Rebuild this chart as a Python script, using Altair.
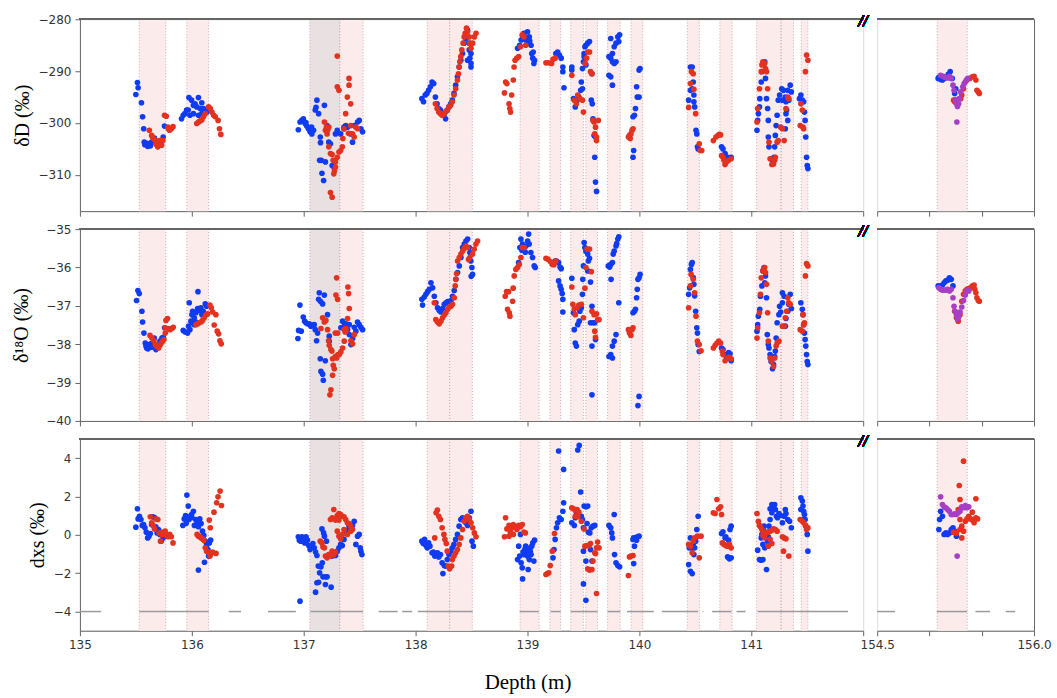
import altair as alt
import pandas as pd

# ---------------- shaded depth intervals ----------------
SPAN_PINK_LEFT = [(135.53, 135.767), (135.955, 136.15), (137.322, 137.531), (138.104, 138.304),
                  (138.304, 138.507), (138.934, 139.104), (139.2, 139.296), (139.386, 139.5),
                  (139.521, 139.626), (139.716, 139.829), (139.925, 140.03), (140.428, 140.536),
                  (140.719, 140.829), (141.048, 141.266), (141.266, 141.377), (141.446, 141.506)]
SPAN_GREY_LEFT = [(137.054, 137.322)]
SPAN_PINK_RIGHT = [(155.074, 155.362)]

# coverage segments drawn at dxs = -4
COVER_LEFT = [(135.0, 135.19), (135.53, 136.15), (136.33, 136.44), (136.68, 136.93), (137.06, 137.53),
              (137.67, 137.84), (137.88, 137.97), (138.02, 138.51), (138.93, 139.1), (139.207, 139.296),
              (139.386, 139.626), (139.716, 139.829), (139.889, 140.129), (140.2, 140.524),
              (140.566, 140.572), (140.65, 140.823), (140.868, 140.949), (141.057, 141.865)]
COVER_RIGHT = [(154.5, 154.67), (155.07, 155.36), (155.44, 155.58), (155.73, 155.82)]

# ---------------- dD (permil) ----------------
DD_BLUE = [
    (135.50, -294.5), (135.514, -292.2), (135.52, -293.2), (135.55, -296.1), (135.56, -298.8), (135.57, -301.1),
    (135.575, -303.7), (135.58, -304.2), (135.593, -304.0), (135.60, -303.9), (135.605, -304.5), (135.62, -304.2),
    (135.63, -304.4), (135.64, -303.7), (135.666, -302.9), (135.68, -303.5), (135.696, -304.5), (135.72, -304.0),
    (135.744, -302.7), (135.756, -300.6),
    (135.908, -299.2), (135.923, -298.5), (135.938, -298.2), (135.953, -297.5), (135.968, -297.5), (135.974, -295.1),
    (135.983, -298.5), (135.998, -295.6), (136.014, -296.6), (136.014, -298.2), (136.029, -296.3), (136.044, -296.9),
    (136.059, -295.1), (136.059, -298.5), (136.074, -297.2), (136.089, -296.1), (136.089, -298.2), (136.104, -297.2),
    (136.12, -297.5), (136.135, -297.9),
    (136.952, -301.3), (136.967, -299.8), (136.982, -299.5), (136.997, -299.2), (137.012, -300.1), (137.02, -299.9),
    (137.027, -300.6), (137.042, -301.1), (137.057, -301.7), (137.07, -300.8), (137.073, -302.1), (137.088, -301.4),
    (137.103, -297.5), (137.11, -297.0), (137.118, -295.6), (137.133, -298.2), (137.148, -302.7), (137.15, -303.8),
    (137.142, -307.2), (137.157, -307.2), (137.163, -309.7), (137.178, -311.1), (137.194, -307.5), (137.185, -296.6),
    (137.209, -300.5), (137.224, -303.7), (137.239, -304.0), (137.254, -308.2), (137.269, -308.5), (137.284, -302.1),
    (137.30, -301.4), (137.33, -302.1), (137.36, -301.1), (137.36, -300.8), (137.375, -300.5), (137.39, -300.8),
    (137.42, -302.1), (137.436, -303.7), (137.451, -300.5), (137.481, -299.8), (137.496, -299.5), (137.511, -301.1),
    (137.526, -301.7),
    (138.056, -295.3), (138.071, -295.9), (138.086, -294.6), (138.101, -294.3), (138.116, -293.7), (138.132, -293.0),
    (138.147, -292.1), (138.162, -292.4), (138.177, -295.0), (138.192, -296.3), (138.207, -297.2), (138.222, -297.5),
    (138.237, -298.2), (138.253, -298.5), (138.268, -299.2), (138.283, -297.5), (138.298, -296.9), (138.313, -296.3),
    (138.328, -295.6), (138.343, -294.3), (138.358, -292.7), (138.374, -291.1), (138.389, -289.2), (138.404, -287.9),
    (138.419, -286.6), (138.434, -284.6), (138.449, -283.7), (138.464, -282.1), (138.464, -287.9), (138.479, -285.9),
    (138.479, -284.6), (138.485, -287.5), (138.495, -289.2), (138.495, -288.5), (138.495, -286.6),
    (138.911, -285.6), (138.93, -285.0), (138.943, -284.0), (138.956, -283.2), (138.968, -282.7), (138.984, -284.0),
    (138.99, -283.5), (139.0, -282.4), (139.006, -284.6), (139.016, -283.4), (139.02, -284.2), (139.032, -285.0),
    (139.038, -286.6), (139.047, -287.5), (139.051, -286.3), (139.057, -288.5), (139.063, -287.9),
    (139.253, -286.6), (139.269, -286.3), (139.285, -286.9), (139.301, -287.5), (139.316, -289.2), (139.316, -290.1),
    (139.326, -293.2),
    (139.396, -289.2), (139.396, -289.8), (139.411, -295.3), (139.427, -296.9), (139.443, -295.6), (139.459, -295.0),
    (139.475, -293.7), (139.481, -292.1), (139.491, -293.4), (139.491, -289.5), (139.5, -288.2), (139.506, -286.6),
    (139.506, -287.2), (139.513, -285.3), (139.522, -285.0), (139.522, -288.8), (139.538, -284.6), (139.554, -284.3),
    (139.576, -290.5), (139.57, -295.6), (139.579, -296.3), (139.585, -299.2), (139.595, -302.4), (139.608, -302.7),
    (139.601, -306.6), (139.608, -311.4), (139.617, -313.2),
    (139.728, -290.8), (139.744, -291.1), (139.759, -292.7), (139.728, -287.2), (139.744, -287.5), (139.759, -288.2),
    (139.775, -288.5), (139.791, -288.2), (139.744, -283.7), (139.759, -286.6), (139.775, -285.3), (139.791, -284.6),
    (139.807, -283.4), (139.823, -283.0), (139.816, -284.3),
    (139.943, -306.6), (139.949, -305.3), (139.943, -298.8), (139.956, -298.5), (139.965, -297.2), (139.981, -295.0),
    (139.997, -295.0), (139.975, -293.0), (139.997, -289.8), (140.006, -289.5),
    (140.44, -295.6), (140.456, -289.2), (140.472, -289.2), (140.456, -293.7), (140.472, -293.4), (140.481, -292.1),
    (140.487, -294.6), (140.487, -295.9), (140.494, -296.9), (140.506, -301.4), (140.513, -302.1), (140.519, -304.6),
    (140.525, -305.0),
    (140.734, -304.6), (140.747, -305.0), (140.766, -305.9), (140.772, -306.6), (140.788, -306.6), (140.804, -306.9),
    (140.82, -306.6),
    (141.051, -301.4), (141.057, -299.5), (141.063, -298.2), (141.073, -296.9), (141.076, -295.3), (141.089, -292.1),
    (141.095, -290.1), (141.104, -288.5), (141.12, -288.2), (141.127, -291.4), (141.136, -295.3), (141.146, -297.2),
    (141.152, -299.5), (141.152, -302.7), (141.158, -304.6), (141.177, -306.9), (141.19, -307.2), (141.203, -306.6),
    (141.209, -304.6), (141.215, -302.4), (141.222, -300.5), (141.231, -298.5), (141.241, -295.6), (141.253, -294.6),
    (141.272, -293.4), (141.278, -295.6), (141.288, -293.7), (141.304, -295.0), (141.304, -301.1), (141.31, -295.9),
    (141.31, -298.2), (141.316, -297.5), (141.326, -299.5), (141.326, -293.7), (141.335, -295.6), (141.348, -292.7),
    (141.358, -294.0),
    (141.43, -295.3), (141.443, -294.6), (141.456, -295.6), (141.468, -295.9), (141.475, -297.9), (141.481, -299.5),
    (141.487, -302.7), (141.494, -306.6), (141.5, -308.2), (141.506, -308.8),
]
DD_RED = [
    (135.62, -301.4), (135.641, -302.4), (135.65, -302.8), (135.666, -303.2), (135.68, -304.1), (135.696, -304.6),
    (135.70, -303.8), (135.711, -303.4), (135.726, -303.9), (135.73, -304.3), (135.741, -303.4), (135.756, -298.5),
    (135.772, -298.7), (135.787, -300.8), (135.79, -301.1), (135.80, -301.4), (135.817, -301.1), (135.832, -300.7),
    (136.044, -300.1), (136.059, -299.8), (136.074, -299.6), (136.089, -299.4), (136.104, -298.8), (136.12, -298.2),
    (136.15, -296.9), (136.165, -297.2), (136.18, -297.9), (136.195, -298.5), (136.21, -298.8), (136.235, -299.5),
    (136.247, -301.1), (136.259, -302.2),
    (137.185, -299.8), (137.194, -301.4), (137.203, -300.8), (137.209, -302.1), (137.215, -301.3), (137.224, -300.8),
    (137.224, -304.6), (137.239, -305.9), (137.254, -306.1), (137.263, -307.2), (137.269, -309.8), (137.275, -309.2),
    (137.284, -308.5), (137.254, -314.3), (137.239, -313.4), (137.284, -307.5), (137.30, -306.6), (137.315, -305.6),
    (137.33, -305.3), (137.345, -304.6), (137.35, -303.0), (137.30, -293.0), (137.315, -293.7), (137.30, -287.1),
    (137.36, -301.1), (137.375, -298.2), (137.39, -295.0), (137.40, -302.0), (137.405, -292.7), (137.405, -291.4),
    (137.42, -296.3), (137.42, -300.5), (137.436, -302.1), (137.451, -302.7), (137.466, -300.8), (137.481, -301.1),
    (138.177, -296.3), (138.192, -297.2), (138.207, -297.9), (138.222, -298.2), (138.237, -298.5), (138.253, -298.2),
    (138.268, -297.9), (138.283, -297.5), (138.298, -296.9), (138.313, -296.6), (138.328, -295.9), (138.343, -294.6),
    (138.358, -293.4), (138.374, -291.7), (138.383, -290.5), (138.389, -289.2), (138.395, -288.2), (138.404, -287.2),
    (138.413, -285.9), (138.425, -284.6), (138.434, -283.4), (138.443, -282.7), (138.455, -281.7), (138.464, -282.4),
    (138.479, -283.4), (138.485, -284.6), (138.495, -285.6), (138.51, -284.6), (138.525, -283.4), (138.54, -282.7),
    (138.794, -294.2), (138.804, -292.1), (138.816, -292.4), (138.835, -296.3), (138.842, -297.2), (138.848, -297.9),
    (138.858, -294.6), (138.873, -291.7), (138.88, -289.2), (138.889, -287.9), (138.905, -287.5), (138.921, -287.2),
    (138.937, -285.3), (138.953, -283.0), (138.968, -283.4), (138.984, -285.0),
    (139.165, -288.4), (139.19, -288.4), (139.215, -288.5), (139.228, -287.7), (139.247, -287.5),
    (139.396, -290.8), (139.418, -295.6), (139.437, -296.3), (139.449, -294.6), (139.468, -295.3), (139.491, -295.6),
    (139.5, -297.9), (139.516, -288.5), (139.528, -287.5), (139.538, -286.3), (139.554, -286.3), (139.563, -290.1),
    (139.576, -290.5), (139.585, -299.5), (139.595, -299.8), (139.601, -302.1), (139.608, -300.8), (139.617, -302.7),
    (139.617, -303.4), (139.633, -299.5),
    (139.902, -302.7), (139.911, -302.4), (139.918, -303.0), (139.924, -302.1), (139.934, -301.4), (139.943, -301.1),
    (140.44, -297.0), (140.456, -292.4), (140.465, -290.1), (140.481, -290.5), (140.487, -293.5), (140.503, -298.2),
    (140.535, -304.0), (140.544, -305.3), (140.557, -305.3),
    (140.661, -303.4), (140.684, -302.7), (140.703, -302.4), (140.715, -302.2), (140.725, -302.3), (140.734, -306.3),
    (140.747, -306.6), (140.756, -307.2), (140.766, -308.0), (140.778, -307.5), (140.797, -307.2), (140.82, -306.9),
    (141.051, -299.8), (141.057, -297.2), (141.073, -293.4), (141.089, -290.1), (141.095, -288.8), (141.104, -288.2),
    (141.12, -288.5), (141.127, -289.5), (141.136, -290.1), (141.146, -293.4), (141.158, -303.7), (141.168, -306.9),
    (141.184, -308.0), (141.199, -307.9), (141.209, -307.2), (141.215, -306.6), (141.231, -303.7), (141.241, -303.4),
    (141.263, -300.8), (141.278, -301.1), (141.294, -303.4), (141.31, -297.2), (141.326, -295.0), (141.335, -295.3),
    (141.437, -300.5), (141.443, -296.3), (141.456, -297.5), (141.462, -300.8), (141.468, -301.1), (141.484, -290.1),
    (141.494, -286.9), (141.506, -287.9),
]
DD_BLUE_R = [(155.083, -291.4), (155.09, -291.2), (155.107, -291.6), (155.124, -291.7), (155.14, -291.4),
             (155.164, -291.1), (155.18, -290.6), (155.198, -290.1), (155.218, -291.4), (155.241, -294.3),
             (155.252, -293.4)]
DD_RED_R = [(155.231, -295.6), (155.241, -295.9), (155.299, -295.3), (155.309, -294.6), (155.326, -293.4),
            (155.343, -292.1), (155.359, -291.7), (155.386, -291.4), (155.41, -291.1), (155.427, -291.0),
            (155.444, -291.7), (155.454, -293.7), (155.467, -294.0), (155.477, -294.3)]
DD_PURPLE_R = [(155.107, -290.8), (155.13, -291.0), (155.15, -291.2), (155.174, -291.3), (155.191, -291.0),
               (155.208, -291.4), (155.225, -292.7), (155.235, -293.7), (155.248, -295.5), (155.258, -296.3),
               (155.268, -296.8), (155.279, -296.3), (155.285, -295.3), (155.299, -294.0), (155.319, -293.0),
               (155.332, -292.4), (155.353, -291.7), (155.366, -291.4), (155.262, -299.8)]

# ---------------- d18O (permil) ----------------
O_BLUE = [
    (135.506, -36.86), (135.518, -36.6), (135.53, -36.68), (135.554, -37.14), (135.56, -37.42), (135.572, -37.71),
    (135.584, -37.97), (135.59, -38.05), (135.596, -38.1), (135.608, -38.12), (135.62, -38.01), (135.634, -37.99),
    (135.64, -38.08), (135.649, -37.97), (135.664, -37.84), (135.679, -38.14), (135.697, -38.03), (135.715, -37.92),
    (135.733, -37.84), (135.745, -37.82), (135.757, -37.57),
    (135.923, -37.64), (135.941, -37.68), (135.962, -37.71), (135.971, -37.53), (135.977, -36.92), (135.983, -37.62),
    (135.992, -37.4), (136.001, -37.23), (136.007, -37.14), (136.007, -37.44), (136.022, -37.31), (136.022, -37.49),
    (136.037, -37.18), (136.037, -37.42), (136.052, -37.07), (136.055, -36.63), (136.066, -37.12), (136.081, -37.05),
    (136.09, -37.23), (136.102, -37.14), (136.12, -36.95), (136.132, -37.01),
    (136.948, -37.85), (136.954, -37.64), (136.966, -36.98), (136.978, -37.66), (136.996, -37.29), (137.008, -37.4),
    (137.02, -37.44), (137.035, -37.47), (137.049, -37.47), (137.064, -37.53), (137.079, -37.5), (137.094, -37.49),
    (137.103, -37.62), (137.115, -37.91), (137.124, -37.71), (137.133, -36.83), (137.139, -36.66), (137.151, -36.89),
    (137.169, -36.95), (137.184, -36.72), (137.148, -38.38), (137.154, -38.71), (137.169, -38.78), (137.175, -38.94),
    (137.193, -38.43), (137.213, -37.23), (137.228, -37.79), (137.228, -37.92), (137.332, -37.57), (137.347, -37.4),
    (137.362, -37.53), (137.377, -37.47), (137.383, -37.62), (137.392, -37.62), (137.407, -37.75), (137.407, -37.49),
    (137.422, -38.01), (137.437, -37.85), (137.452, -37.56), (137.466, -37.66), (137.481, -37.42), (137.496, -37.49),
    (137.511, -37.56), (137.526, -37.62),
    (138.056, -36.83), (138.062, -36.98), (138.077, -36.77), (138.092, -36.7), (138.107, -36.63), (138.122, -36.57),
    (138.137, -36.4), (138.152, -36.53), (138.167, -36.75), (138.181, -36.92), (138.196, -37.05), (138.211, -37.12),
    (138.226, -37.16), (138.241, -37.07), (138.256, -36.96), (138.271, -36.92), (138.286, -36.89), (138.301, -36.89),
    (138.316, -36.86), (138.33, -36.75), (138.345, -36.6), (138.36, -36.31), (138.375, -36.13), (138.39, -35.96),
    (138.405, -35.74), (138.42, -35.48), (138.435, -35.39), (138.45, -35.31), (138.465, -35.26), (138.479, -35.48),
    (138.485, -35.61), (138.494, -35.83), (138.497, -36.23), (138.503, -36.0), (138.509, -36.18),
    (138.92, -35.87), (138.932, -35.48), (138.941, -35.26), (138.95, -35.55), (138.956, -35.39), (138.971, -35.48),
    (138.98, -35.6), (138.986, -35.44), (139.001, -35.31), (139.01, -35.13), (139.015, -35.39), (139.03, -35.61),
    (139.045, -35.74), (139.06, -35.96), (139.069, -36.0),
    (139.247, -35.83), (139.259, -35.83), (139.278, -35.87), (139.291, -35.99), (139.301, -36.03), (139.278, -36.35),
    (139.291, -36.48), (139.301, -36.57), (139.31, -36.68), (139.316, -37.16), (139.316, -36.83),
    (139.396, -36.28), (139.411, -37.18), (139.418, -37.62), (139.427, -37.97), (139.437, -38.05), (139.449, -37.49),
    (139.462, -37.4), (139.468, -37.14), (139.481, -37.05), (139.491, -36.7), (139.494, -36.31), (139.5, -35.96),
    (139.506, -35.35), (139.513, -35.48), (139.522, -35.58), (139.538, -35.65), (139.544, -35.83), (139.538, -36.09),
    (139.554, -35.76), (139.563, -36.38), (139.576, -37.01), (139.563, -37.44), (139.585, -37.44), (139.576, -38.05),
    (139.576, -39.32), (139.601, -37.44), (139.608, -37.88),
    (139.722, -35.96), (139.734, -35.99), (139.744, -35.92), (139.747, -36.31), (139.759, -35.87), (139.766, -35.65),
    (139.775, -35.57), (139.791, -35.44), (139.797, -35.38), (139.807, -35.26), (139.816, -35.2), (139.816, -36.92),
    (139.791, -37.75), (139.775, -37.92), (139.759, -38.05), (139.744, -38.27), (139.759, -38.36), (139.728, -38.32),
    (139.943, -37.18), (139.956, -37.14), (139.965, -37.09), (139.975, -36.79), (139.981, -36.57), (139.987, -36.31),
    (139.997, -36.27), (140.006, -36.18), (139.987, -39.6), (139.997, -39.36),
    (140.44, -36.7), (140.449, -36.53), (140.456, -36.05), (140.465, -35.92), (140.472, -35.87), (140.481, -36.26),
    (140.487, -36.44), (140.494, -36.74), (140.503, -37.14), (140.513, -37.57), (140.519, -37.71), (140.525, -38.01),
    (140.535, -38.19),
    (140.734, -38.1), (140.747, -38.14), (140.766, -38.27), (140.778, -38.32), (140.788, -38.36), (140.797, -38.22),
    (140.81, -38.25), (140.82, -38.43),
    (141.051, -37.66), (141.057, -37.49), (141.063, -37.27), (141.076, -37.09), (141.082, -36.75), (141.095, -36.48),
    (141.104, -36.09), (141.114, -36.0), (141.12, -36.4), (141.127, -36.22), (141.136, -36.79), (141.143, -37.75),
    (141.152, -38.01), (141.158, -38.1), (141.168, -38.27), (141.177, -38.45), (141.19, -38.64), (141.199, -38.53),
    (141.209, -38.32), (141.215, -38.18), (141.222, -37.84), (141.231, -37.44), (141.247, -37.23), (141.253, -37.01),
    (141.263, -37.16), (141.278, -36.92), (141.278, -36.66), (141.294, -36.75), (141.304, -37.53), (141.31, -37.33),
    (141.326, -37.14), (141.335, -36.96), (141.348, -36.7), (141.358, -37.07),
    (141.443, -36.92), (141.456, -37.09), (141.462, -37.23), (141.468, -37.49), (141.475, -37.71), (141.481, -37.88),
    (141.487, -38.05), (141.494, -38.27), (141.5, -38.45), (141.506, -38.53),
]
O_RED = [
    (135.626, -37.77), (135.643, -37.84), (135.661, -37.91), (135.673, -38.01), (135.685, -38.05), (135.703, -38.1),
    (135.715, -38.03), (135.727, -37.97), (135.739, -37.92), (135.751, -37.88), (135.763, -37.57), (135.763, -37.71),
    (135.769, -37.38), (135.783, -37.33), (135.792, -37.59), (135.804, -37.62), (135.822, -37.59), (135.834, -37.56),
    (136.037, -37.49), (136.052, -37.47), (136.066, -37.44), (136.081, -37.42), (136.096, -37.38), (136.111, -37.31),
    (136.126, -37.24), (136.141, -37.21), (136.162, -36.98), (136.174, -37.05), (136.186, -37.16), (136.2, -37.5),
    (136.215, -37.23), (136.227, -37.66), (136.239, -37.73), (136.251, -37.91), (136.263, -37.99),
    (137.154, -37.59), (137.169, -37.31), (137.184, -37.42), (137.198, -37.38), (137.213, -37.62), (137.222, -37.91),
    (137.228, -38.03), (137.243, -38.14), (137.252, -38.18), (137.258, -38.38), (137.264, -38.55), (137.273, -38.64),
    (137.258, -38.81), (137.243, -39.19), (137.234, -39.32), (137.282, -38.32), (137.282, -37.71), (137.288, -36.72),
    (137.294, -38.36), (137.294, -36.27), (137.303, -36.83), (137.303, -37.71), (137.306, -38.27), (137.318, -38.27),
    (137.332, -38.2), (137.347, -38.1), (137.362, -37.92), (137.362, -37.62), (137.371, -37.68), (137.377, -37.59),
    (137.377, -37.66), (137.392, -37.33), (137.395, -36.51), (137.401, -36.68), (137.407, -37.07), (137.422, -37.91),
    (137.437, -37.99), (137.452, -37.75),
    (138.167, -36.92), (138.181, -37.36), (138.196, -37.42), (138.211, -37.47), (138.226, -37.4), (138.241, -37.31),
    (138.256, -37.24), (138.271, -37.18), (138.286, -37.09), (138.301, -37.03), (138.316, -37.01), (138.33, -36.96),
    (138.345, -36.79), (138.354, -36.48), (138.36, -36.31), (138.366, -36.16), (138.375, -35.83), (138.39, -35.74),
    (138.405, -35.65), (138.42, -35.57), (138.435, -35.5), (138.45, -35.44), (138.465, -35.48), (138.473, -35.79),
    (138.485, -35.74), (138.509, -35.65), (138.524, -35.52), (138.539, -35.39), (138.554, -35.31),
    (138.801, -36.75), (138.813, -36.63), (138.822, -37.09), (138.831, -36.63), (138.837, -37.18), (138.843, -37.27),
    (138.867, -36.88), (138.872, -36.54), (138.881, -36.22), (138.896, -36.05), (138.911, -36.0), (138.926, -35.92),
    (138.941, -35.74), (138.956, -35.48), (138.971, -35.48),
    (139.165, -35.76), (139.184, -35.79), (139.206, -35.85), (139.222, -35.92), (139.237, -35.93), (139.253, -35.83),
    (139.396, -36.51), (139.405, -36.96), (139.418, -37.09), (139.427, -37.23), (139.443, -37.05), (139.459, -36.98),
    (139.481, -36.96), (139.5, -37.31), (139.513, -36.54), (139.522, -36.0), (139.532, -35.52), (139.554, -35.52),
    (139.57, -36.11), (139.576, -37.14), (139.595, -37.23), (139.601, -37.66), (139.608, -37.82), (139.617, -37.21),
    (139.627, -37.36), (139.639, -37.36),
    (139.902, -37.62), (139.911, -37.71), (139.924, -37.77), (139.934, -37.62), (139.943, -37.57),
    (140.44, -37.05), (140.456, -36.48), (140.462, -36.18), (140.481, -36.31), (140.494, -36.66), (140.506, -37.27),
    (140.519, -37.92), (140.535, -38.01), (140.551, -38.17),
    (140.661, -38.1), (140.677, -38.03), (140.693, -37.97), (140.709, -37.92), (140.725, -37.97), (140.741, -38.18),
    (140.747, -38.27), (140.766, -38.43), (140.788, -38.36), (140.804, -38.34), (140.82, -38.38),
    (141.051, -37.84), (141.057, -37.57), (141.073, -37.18), (141.082, -36.7), (141.089, -36.27), (141.104, -36.09),
    (141.12, -36.0), (141.127, -36.13), (141.136, -36.44), (141.146, -37.18), (141.152, -37.92), (141.168, -38.36),
    (141.184, -38.45), (141.199, -38.58), (141.209, -38.36), (141.222, -38.05), (141.231, -37.97), (141.247, -37.92),
    (141.278, -37.53), (141.294, -37.53), (141.304, -37.31), (141.316, -37.14), (141.326, -36.79), (141.335, -36.92),
    (141.348, -36.96),
    (141.437, -37.62), (141.456, -37.66), (141.462, -37.23), (141.468, -37.49), (141.475, -37.44), (141.484, -36.22),
    (141.494, -35.9), (141.506, -35.96),
]
O_BLUE_R = [(155.083, -36.48), (155.107, -36.48), (155.124, -36.46), (155.14, -36.4), (155.157, -36.35),
            (155.174, -36.33), (155.191, -36.27), (155.208, -36.31), (155.225, -36.48)]
O_RED_R = [(155.241, -37.14), (155.258, -37.31), (155.275, -37.4), (155.292, -37.23), (155.309, -36.88),
           (155.326, -36.7), (155.343, -36.61), (155.359, -36.57), (155.376, -36.55), (155.393, -36.53),
           (155.41, -36.48), (155.427, -36.46), (155.434, -36.57), (155.444, -36.66), (155.454, -36.79),
           (155.467, -36.86), (155.477, -36.88)]
O_PURPLE_R = [(155.09, -36.53), (155.107, -36.57), (155.124, -36.59), (155.14, -36.59), (155.157, -36.59),
              (155.174, -36.57), (155.191, -36.61), (155.208, -36.57), (155.225, -36.79), (155.235, -37.01),
              (155.245, -37.14), (155.258, -37.23), (155.268, -37.34), (155.279, -37.29), (155.292, -37.16),
              (155.309, -37.03), (155.326, -36.86), (155.343, -36.72), (155.359, -36.61), (155.376, -36.61)]

# ---------------- deuterium excess (permil) ----------------
X_BLUE = [
    (135.50, 0.4), (135.514, 1.36), (135.52, 0.83), (135.532, 0.97), (135.545, 0.8), (135.557, 0.49), (135.569, 0.54),
    (135.581, 0.37), (135.593, 0.14), (135.605, -0.16), (135.617, -0.07), (135.629, 0.07), (135.641, 0.54),
    (135.65, 0.94), (135.666, 0.9), (135.678, 0.42), (135.69, 0.1), (135.702, 0.28), (135.714, 0.02),
    (135.726, -0.33), (135.744, -0.16), (135.756, 0.1),
    (135.92, 0.49), (135.932, 0.83), (135.944, 1.01), (135.95, 0.6), (135.956, 2.07), (135.968, 1.5), (135.974, 0.8),
    (135.986, 0.97), (135.998, 1.06), (136.0, 0.9), (136.014, 1.23), (136.023, 0.49), (136.035, 0.8), (136.047, 0.63),
    (136.059, 0.42), (136.071, 0.83), (136.083, 0.59), (136.095, 0.19), (136.107, -0.03), (136.12, -0.33),
    (136.132, -0.56), (136.144, -0.77), (136.156, -0.42), (136.168, -0.28), (136.059, -1.84), (136.113, -1.43),
    (136.15, -1.11), (136.165, -1.03),
    (136.952, -0.1), (136.961, -0.28), (136.973, -0.33), (136.985, -0.1), (136.997, -0.21), (137.009, -0.42),
    (137.021, -0.1), (137.033, -0.28), (137.045, -0.56), (137.057, -0.77), (137.07, -0.59), (137.082, -0.45),
    (137.094, -0.68), (137.106, -0.9), (137.118, -1.08), (137.13, -1.63), (137.142, -1.98), (137.154, -1.67),
    (137.166, -1.46), (137.118, -2.5), (137.106, -2.99), (137.133, -2.47), (137.172, -2.19), (137.194, -2.19),
    (137.209, -2.19), (137.194, -2.59), (137.245, -2.73), (136.967, -3.46), (137.163, 0.31), (137.178, 0.1),
    (137.185, -0.07), (137.203, -0.33), (137.227, -1.03), (137.254, -1.11), (137.284, -1.08), (137.3, -0.85),
    (137.315, -0.68), (137.33, -0.5), (137.345, -0.56), (137.36, -0.24), (137.375, 0.1), (137.39, 0.24),
    (137.405, 0.45), (137.42, 0.28), (137.436, 0.49), (137.451, 0.71), (137.466, -0.5), (137.481, -0.07),
    (137.496, 0.02), (137.505, -0.68), (137.511, -0.85), (137.52, -1.03),
    (138.056, -0.33), (138.068, -0.45), (138.08, -0.24), (138.092, -0.56), (138.104, -0.68), (138.116, -0.42),
    (138.128, -0.59), (138.147, -0.94), (138.159, -0.9), (138.171, -1.11), (138.183, -1.03), (138.195, -0.94),
    (138.207, -1.15), (138.222, -1.03), (138.237, -1.46), (138.244, -2.02), (138.256, -1.6), (138.268, -1.63),
    (138.283, -1.29), (138.298, -1.03), (138.313, -0.85), (138.328, -0.68), (138.343, -0.5), (138.358, -0.24),
    (138.374, 0.02), (138.389, 0.45), (138.404, 0.8), (138.419, 0.89), (138.434, 0.8), (138.449, 0.63),
    (138.464, 0.49), (138.479, 0.89), (138.495, 1.23), (138.504, -0.33), (138.516, -0.59),
    (138.911, -1.29), (138.921, -0.59), (138.93, -1.11), (138.937, 0.02), (138.943, -1.46), (138.953, -1.72),
    (138.956, -2.3), (138.96, -0.9), (138.968, -1.03), (138.975, -0.77), (138.984, -0.59), (138.994, -0.85),
    (139.0, -1.11), (139.006, -1.81), (139.01, -0.7), (139.016, -1.29), (139.025, -0.85), (139.032, -1.03),
    (139.038, -0.59), (139.047, -0.42), (139.057, -1.37), (139.063, -0.28),
    (139.228, -1.2), (139.237, -0.77), (139.247, -0.24), (139.259, 0.37), (139.269, 0.63), (139.285, 0.89),
    (139.301, 0.8), (139.316, 1.23), (139.323, 1.67), (139.278, 4.37), (139.323, 3.41),
    (139.396, 0.63), (139.418, 0.49), (139.427, 0.89), (139.437, 1.18), (139.449, 4.42), (139.462, 4.66),
    (139.475, 2.23), (139.481, 0.97), (139.491, 0.8), (139.5, 0.37), (139.506, 1.5), (139.522, 1.46),
    (139.538, 1.5), (139.532, 0.59), (139.544, 0.14), (139.557, 0.1), (139.57, 0.37), (139.585, 0.45),
    (139.601, 0.49), (139.5, -0.85), (139.522, -1.37), (139.5, -2.56), (139.522, -3.41), (139.563, -0.77),
    (139.576, -1.37),
    (139.728, 0.49), (139.744, 0.37), (139.753, 0.1), (139.759, -0.16), (139.775, 1.06), (139.778, -1.03),
    (139.791, -1.46), (139.807, -1.6), (139.823, -1.67),
    (139.943, -0.24), (139.949, -0.16), (139.965, -0.16), (139.981, -0.1), (139.997, -0.07), (139.956, -0.59),
    (139.949, -1.5), (139.975, -0.28),
    (140.44, -1.55), (140.456, -1.9), (140.472, -2.02), (140.446, -0.68), (140.456, -0.16), (140.472, -0.68),
    (140.481, -0.5), (140.487, -1.03), (140.494, -0.68), (140.503, -0.33), (140.513, 0.28), (140.525, 0.97),
    (140.734, 0.07), (140.747, 0.16), (140.766, -0.16), (140.772, -0.1), (140.788, -1.15), (140.797, -0.28),
    (140.804, -1.25), (140.81, 0.28), (140.82, -1.2), (140.82, 0.45),
    (141.057, -0.8), (141.073, -1.29), (141.089, -1.32), (141.104, -1.29), (141.089, -0.16), (141.095, 0.02),
    (141.104, 0.28), (141.104, -0.5), (141.114, 0.45), (141.12, -0.68), (141.127, 0.14), (141.136, -1.81),
    (141.146, -0.33), (141.152, -0.1), (141.158, 0.45), (141.168, 0.8), (141.168, 1.36), (141.184, 1.15),
    (141.184, 1.58), (141.199, 1.41), (141.209, 1.58), (141.215, 1.32), (141.225, 0.97), (141.234, 0.89),
    (141.247, 1.11), (141.263, 1.01), (141.278, 0.63), (141.294, 0.97), (141.304, 1.32), (141.31, 1.11),
    (141.326, 0.8), (141.342, 0.71), (141.358, 0.37),
    (141.443, 1.93), (141.443, 1.32), (141.456, 1.76), (141.456, 0.8), (141.462, 1.5), (141.468, 1.23),
    (141.475, 1.06), (141.481, 0.8), (141.487, 0.45), (141.5, 0.02), (141.506, -0.85),
]
X_RED = [
    (135.629, 0.94), (135.641, 0.63), (135.654, 0.49), (135.666, 0.31), (135.68, 0.83), (135.696, 0.8),
    (135.708, 0.1), (135.72, -0.33), (135.732, 0.02), (135.744, 0.14), (135.762, 0.19), (135.774, -0.03),
    (135.787, -0.1), (135.802, 0.02), (135.817, -0.1), (135.832, -0.42),
    (136.047, 0.02), (136.059, -0.07), (136.071, -0.1), (136.083, -0.16), (136.095, -0.21), (136.107, -0.28),
    (136.12, -0.68), (136.132, -0.85), (136.15, -0.9), (136.162, -1.11), (136.174, -0.97), (136.186, -0.9),
    (136.165, 0.37), (136.156, 0.77), (136.198, 1.18), (136.222, 1.67), (136.234, 1.98), (136.253, 2.28),
    (136.265, 1.53), (136.216, -0.97),
    (137.148, -0.33), (137.163, -0.42), (137.172, -0.63), (137.185, -0.68), (137.194, -1.11), (137.209, -1.2),
    (137.224, -1.03), (137.239, -1.11), (137.254, -0.85), (137.269, -1.03), (137.284, -0.9), (137.239, 0.8),
    (137.254, 0.89), (137.269, 0.84), (137.269, 1.32), (137.284, 0.77), (137.3, 1.01), (137.3, 0.19),
    (137.315, 1.11), (137.315, 0.77), (137.315, -0.07), (137.33, 1.06), (137.33, -0.21), (137.345, 0.97),
    (137.345, 0.02), (137.36, 0.94), (137.36, 0.28), (137.375, 0.8), (137.39, 0.63), (137.39, 0.02),
    (137.405, 0.59), (137.42, 0.45), (137.42, 0.19), (137.436, 0.28),
    (138.171, -0.16), (138.183, 1.15), (138.195, 1.29), (138.207, 0.97), (138.222, 0.8), (138.237, 0.37),
    (138.253, 0.02), (138.262, -0.24), (138.274, -0.45), (138.283, -0.85), (138.292, -1.63), (138.304, -1.77),
    (138.322, -1.63), (138.328, -1.29), (138.343, -1.11), (138.358, -0.94), (138.374, -0.77), (138.389, -0.5),
    (138.404, -0.16), (138.419, 0.28), (138.434, 0.71), (138.449, 0.89), (138.464, 0.97), (138.479, 0.8),
    (138.495, 0.63), (138.51, 0.37), (138.525, 0.1), (138.54, -0.1),
    (138.794, -0.1), (138.804, 0.89), (138.816, 0.31), (138.835, 0.49), (138.835, -0.07), (138.848, 0.14),
    (138.861, 0.37), (138.873, 0.54), (138.873, 0.02), (138.889, 0.42), (138.905, 0.28), (138.921, 0.49),
    (138.937, 0.42), (138.953, 0.54), (138.968, 0.14), (138.981, 0.1),
    (139.165, -2.07), (139.177, -2.02), (139.19, -1.98), (139.203, -1.6), (139.222, -0.85), (139.241, 0.07),
    (139.396, 1.41), (139.411, 1.36), (139.427, 1.29), (139.427, 0.97), (139.443, 1.32), (139.449, 0.94),
    (139.459, 1.18), (139.481, 0.71), (139.506, 0.31), (139.513, -0.59), (139.532, -0.56), (139.538, -1.77),
    (139.551, -0.56), (139.554, -1.84), (139.563, -0.45), (139.576, -1.81), (139.585, -1.37), (139.601, -0.94),
    (139.608, -0.98), (139.617, -0.68), (139.617, -3.06), (139.627, -0.38), (139.639, -0.68),
    (139.902, -2.12), (139.911, -1.15), (139.924, -1.11), (139.943, -1.08),
    (140.44, -0.5), (140.456, -0.59), (140.472, -0.94), (140.481, -0.33), (140.494, -0.16), (140.519, -0.07),
    (140.535, -1.2), (140.551, -0.07),
    (140.661, 1.15), (140.677, 1.11), (140.693, 1.84), (140.709, 1.36), (140.725, 1.46), (140.734, 1.06),
    (140.741, -0.42), (140.756, -0.5), (140.772, -0.56), (140.788, -0.59), (140.804, -0.5), (140.82, -0.68),
    (141.051, 1.11), (141.063, 0.71), (141.073, 0.49), (141.082, 0.42), (141.095, 0.28), (141.104, -0.03),
    (141.108, 0.14), (141.12, 0.02), (141.12, -0.16), (141.136, 0.1), (141.152, 0.14), (141.152, -0.59),
    (141.168, 0.19), (141.168, -0.24), (141.184, 0.24), (141.184, -0.45), (141.199, 0.31), (141.215, 0.28),
    (141.231, 0.19), (141.278, -0.1), (141.288, -0.85), (141.294, -0.16), (141.31, -0.21), (141.335, -1.11),
    (141.437, 0.8), (141.456, 0.71), (141.468, 0.63), (141.484, 0.49), (141.494, 0.28), (141.506, 0.37),
]
X_BLUE_R = [(155.09, 0.28), (155.097, 0.8), (155.107, 1.23), (155.124, 0.97), (155.14, 0.02), (155.157, 0.1),
            (155.174, 0.02), (155.191, 0.1), (155.208, 0.28), (155.225, 0.37), (155.241, 0.19), (155.258, -0.07)]
X_RED_R = [(155.231, 0.14), (155.258, 0.1), (155.275, 1.32), (155.285, 2.57), (155.292, 1.84), (155.292, 0.8),
           (155.292, 0.28), (155.309, 0.45), (155.309, -0.16), (155.326, 3.84), (155.326, 0.19), (155.343, 0.71),
           (155.359, 0.83), (155.376, 0.97), (155.393, 0.83), (155.41, 0.77), (155.41, 1.18), (155.427, 0.63),
           (155.444, 0.89), (155.444, 1.88), (155.46, 0.83)]
X_PURPLE_R = [(155.107, 1.98), (155.124, 1.58), (155.14, 1.46), (155.157, 1.41), (155.174, 1.32), (155.191, 1.23),
              (155.208, 1.06), (155.225, 1.06), (155.241, 1.1), (155.258, 1.06), (155.275, 1.15), (155.292, 1.23),
              (155.309, 1.46), (155.326, 1.41), (155.343, 1.53), (155.359, 1.41), (155.376, 1.46), (155.265, -1.11)]

# ---------------- layout / style ----------------
WL, WR, H = 784, 157, 192
BLUE, RED, PURPLE = "#0f3cf2", "#e3321f", "#a63fc6"
AXIS_GREY = "#666666"

ROWS = [
    dict(key="dD", title="δD (‰)", dom=[-317, -280], ticks=[-310, -300, -290, -280], titleX=-57,
         L=[(DD_BLUE, "blue"), (DD_RED, "red")], R=[(DD_BLUE_R, "blue"), (DD_RED_R, "red"), (DD_PURPLE_R, "purple")]),
    dict(key="d18O", title="δ¹⁸O (‰)", dom=[-40, -35], ticks=[-40, -39, -38, -37, -36, -35], titleX=-58,
         L=[(O_BLUE, "blue"), (O_RED, "red")], R=[(O_BLUE_R, "blue"), (O_RED_R, "red"), (O_PURPLE_R, "purple")]),
    dict(key="dxs", title="dxs (‰)", dom=[-5, 5], ticks=[-4, -2, 0, 2, 4], titleX=-42,
         L=[(X_BLUE, "blue"), (X_RED, "red")], R=[(X_BLUE_R, "blue"), (X_RED_R, "red"), (X_PURPLE_R, "purple")]),
]

color_scale = alt.Scale(domain=["blue", "red", "purple"], range=[BLUE, RED, PURPLE])


def spans_df(lst, kind):
    return pd.DataFrame([{"start": a, "end": b, "kind": kind} for a, b in lst])


def panel(row, side, bottom):
    left = side == "L"
    W = WL if left else WR
    xdom = [135, 142] if left else [154.5, 156.0]
    if left:
        xvals = [135, 136, 137, 138, 139, 140, 141, 142]
        lexpr = "datum.value < 141.5 ? format(datum.value, 'd') : ''"
    else:
        xvals = [154.5, 155.0, 155.5, 156.0]
        lexpr = "(datum.value == 154.5 || datum.value == 156) ? format(datum.value, '.1f') : ''"
    xaxis_kw = dict(values=xvals, labelExpr=lexpr, labels=bottom, labelFlush=False, grid=False, tickSize=5,
                    tickColor=AXIS_GREY, domainColor=AXIS_GREY, labelFont="DejaVu Sans",
                    labelFontSize=12, labelColor="#333333", labelPadding=4)
    if bottom and left:
        xaxis_kw.update(title="Depth (m)", titleX=448, titleY=52, titleAlign="center",
                        titleBaseline="middle", titleFont="Liberation Serif", titleFontSize=21,
                        titleFontWeight="normal", titleColor="#000000")
    else:
        xaxis_kw.update(title=None)
    xaxis = alt.Axis(**xaxis_kw)
    xscale = alt.Scale(domain=xdom, nice=False, zero=False)

    yscale = alt.Scale(domain=row["dom"], nice=False, zero=False)
    if left:
        yaxis = alt.Axis(values=row["ticks"], format="d", grid=False, tickSize=5, tickColor=AXIS_GREY,
                         domainColor=AXIS_GREY, labelFont="DejaVu Sans", labelFontSize=12,
                         labelColor="#333333", labelPadding=4, labelFlush=False, title=row["title"],
                         titleX=row["titleX"], titleY=H / 2, titleAngle=270, titleAlign="center",
                         titleBaseline="middle", titleFont="Liberation Serif", titleFontSize=20,
                         titleFontWeight="normal", titleColor="#000000")
    else:
        yaxis = alt.Axis(orient="right", labels=False, ticks=False, grid=False, domainColor=AXIS_GREY,
                         title=None)

    layers = []
    # shaded intervals
    if left:
        sp = pd.concat([spans_df(SPAN_PINK_LEFT, "pink"), spans_df(SPAN_GREY_LEFT, "grey")])
    else:
        sp = spans_df(SPAN_PINK_RIGHT, "pink")
    layers.append(alt.Chart(sp).mark_rect(strokeWidth=0).encode(
        x=alt.X("start:Q", scale=xscale, axis=xaxis),
        x2="end:Q",
        y=alt.value(0), y2=alt.value(H),
        color=alt.Color("kind:N", scale=alt.Scale(domain=["pink", "grey"], range=["#fbebeb", "#e9e0e1"]),
                        legend=None),
    ))
    edges = pd.DataFrame({"edge": [v for a, b in (SPAN_PINK_LEFT + SPAN_GREY_LEFT if left else SPAN_PINK_RIGHT)
                                   for v in (a, b)]})
    layers.append(alt.Chart(edges).mark_rule(color="#d9a7ad", strokeWidth=1, strokeDash=[1, 2]).encode(
        x=alt.X("edge:Q", scale=xscale, axis=xaxis),
        y=alt.value(0), y2=alt.value(H),
    ))
    # coverage segments (dxs row only)
    if row["key"] == "dxs":
        cov = pd.DataFrame(COVER_LEFT if left else COVER_RIGHT, columns=["start", "end"])
        layers.append(alt.Chart(cov).mark_rule(color="#9a9a9a", strokeWidth=1.5).encode(
            x=alt.X("start:Q", scale=xscale, axis=xaxis),
            x2="end:Q",
            y=alt.Y(datum=-4, scale=yscale, axis=yaxis),
        ))
    # points
    frames = []
    for lst, ser in (row["L"] if left else row["R"]):
        frames.append(pd.DataFrame(lst, columns=["depth", "value"]).assign(series=ser))
    pts = pd.concat(frames, ignore_index=True)
    layers.append(alt.Chart(pts).mark_circle(size=32, opacity=1, clip=True).encode(
        x=alt.X("depth:Q", scale=xscale, axis=xaxis),
        y=alt.Y("value:Q", scale=yscale, axis=yaxis),
        color=alt.Color("series:N", scale=color_scale, legend=None),
    ))
    # top frame line
    layers.append(alt.Chart(pts).mark_rule(color=AXIS_GREY, strokeWidth=1).encode(
        x=alt.value(0), x2=alt.value(W), y=alt.value(0)))
    # axis-break marks
    if left:
        layers.append(alt.Chart(pts).mark_text(text="//", fontSize=14, fontStyle="italic",
                                               font="DejaVu Sans", align="center", baseline="middle",
                                               color="#111111").encode(
            x=alt.value(W), y=alt.value(2)))
    return alt.layer(*layers).resolve_scale(color="independent").properties(width=W, height=H)


panels = []
for i, row in enumerate(ROWS):
    bottom = i == len(ROWS) - 1
    panels.append(panel(row, "L", bottom))
    panels.append(panel(row, "R", bottom))

chart = alt.concat(*panels, columns=2, spacing={"row": 18, "column": 14}, bounds="flush",
                   align="each").properties(
    padding={"left": 11, "top": 12, "right": 5, "bottom": 5}
).configure_view(stroke=None).configure(background="white")

chart.save("out.html", embed_options={"renderer": "svg", "actions": False})
